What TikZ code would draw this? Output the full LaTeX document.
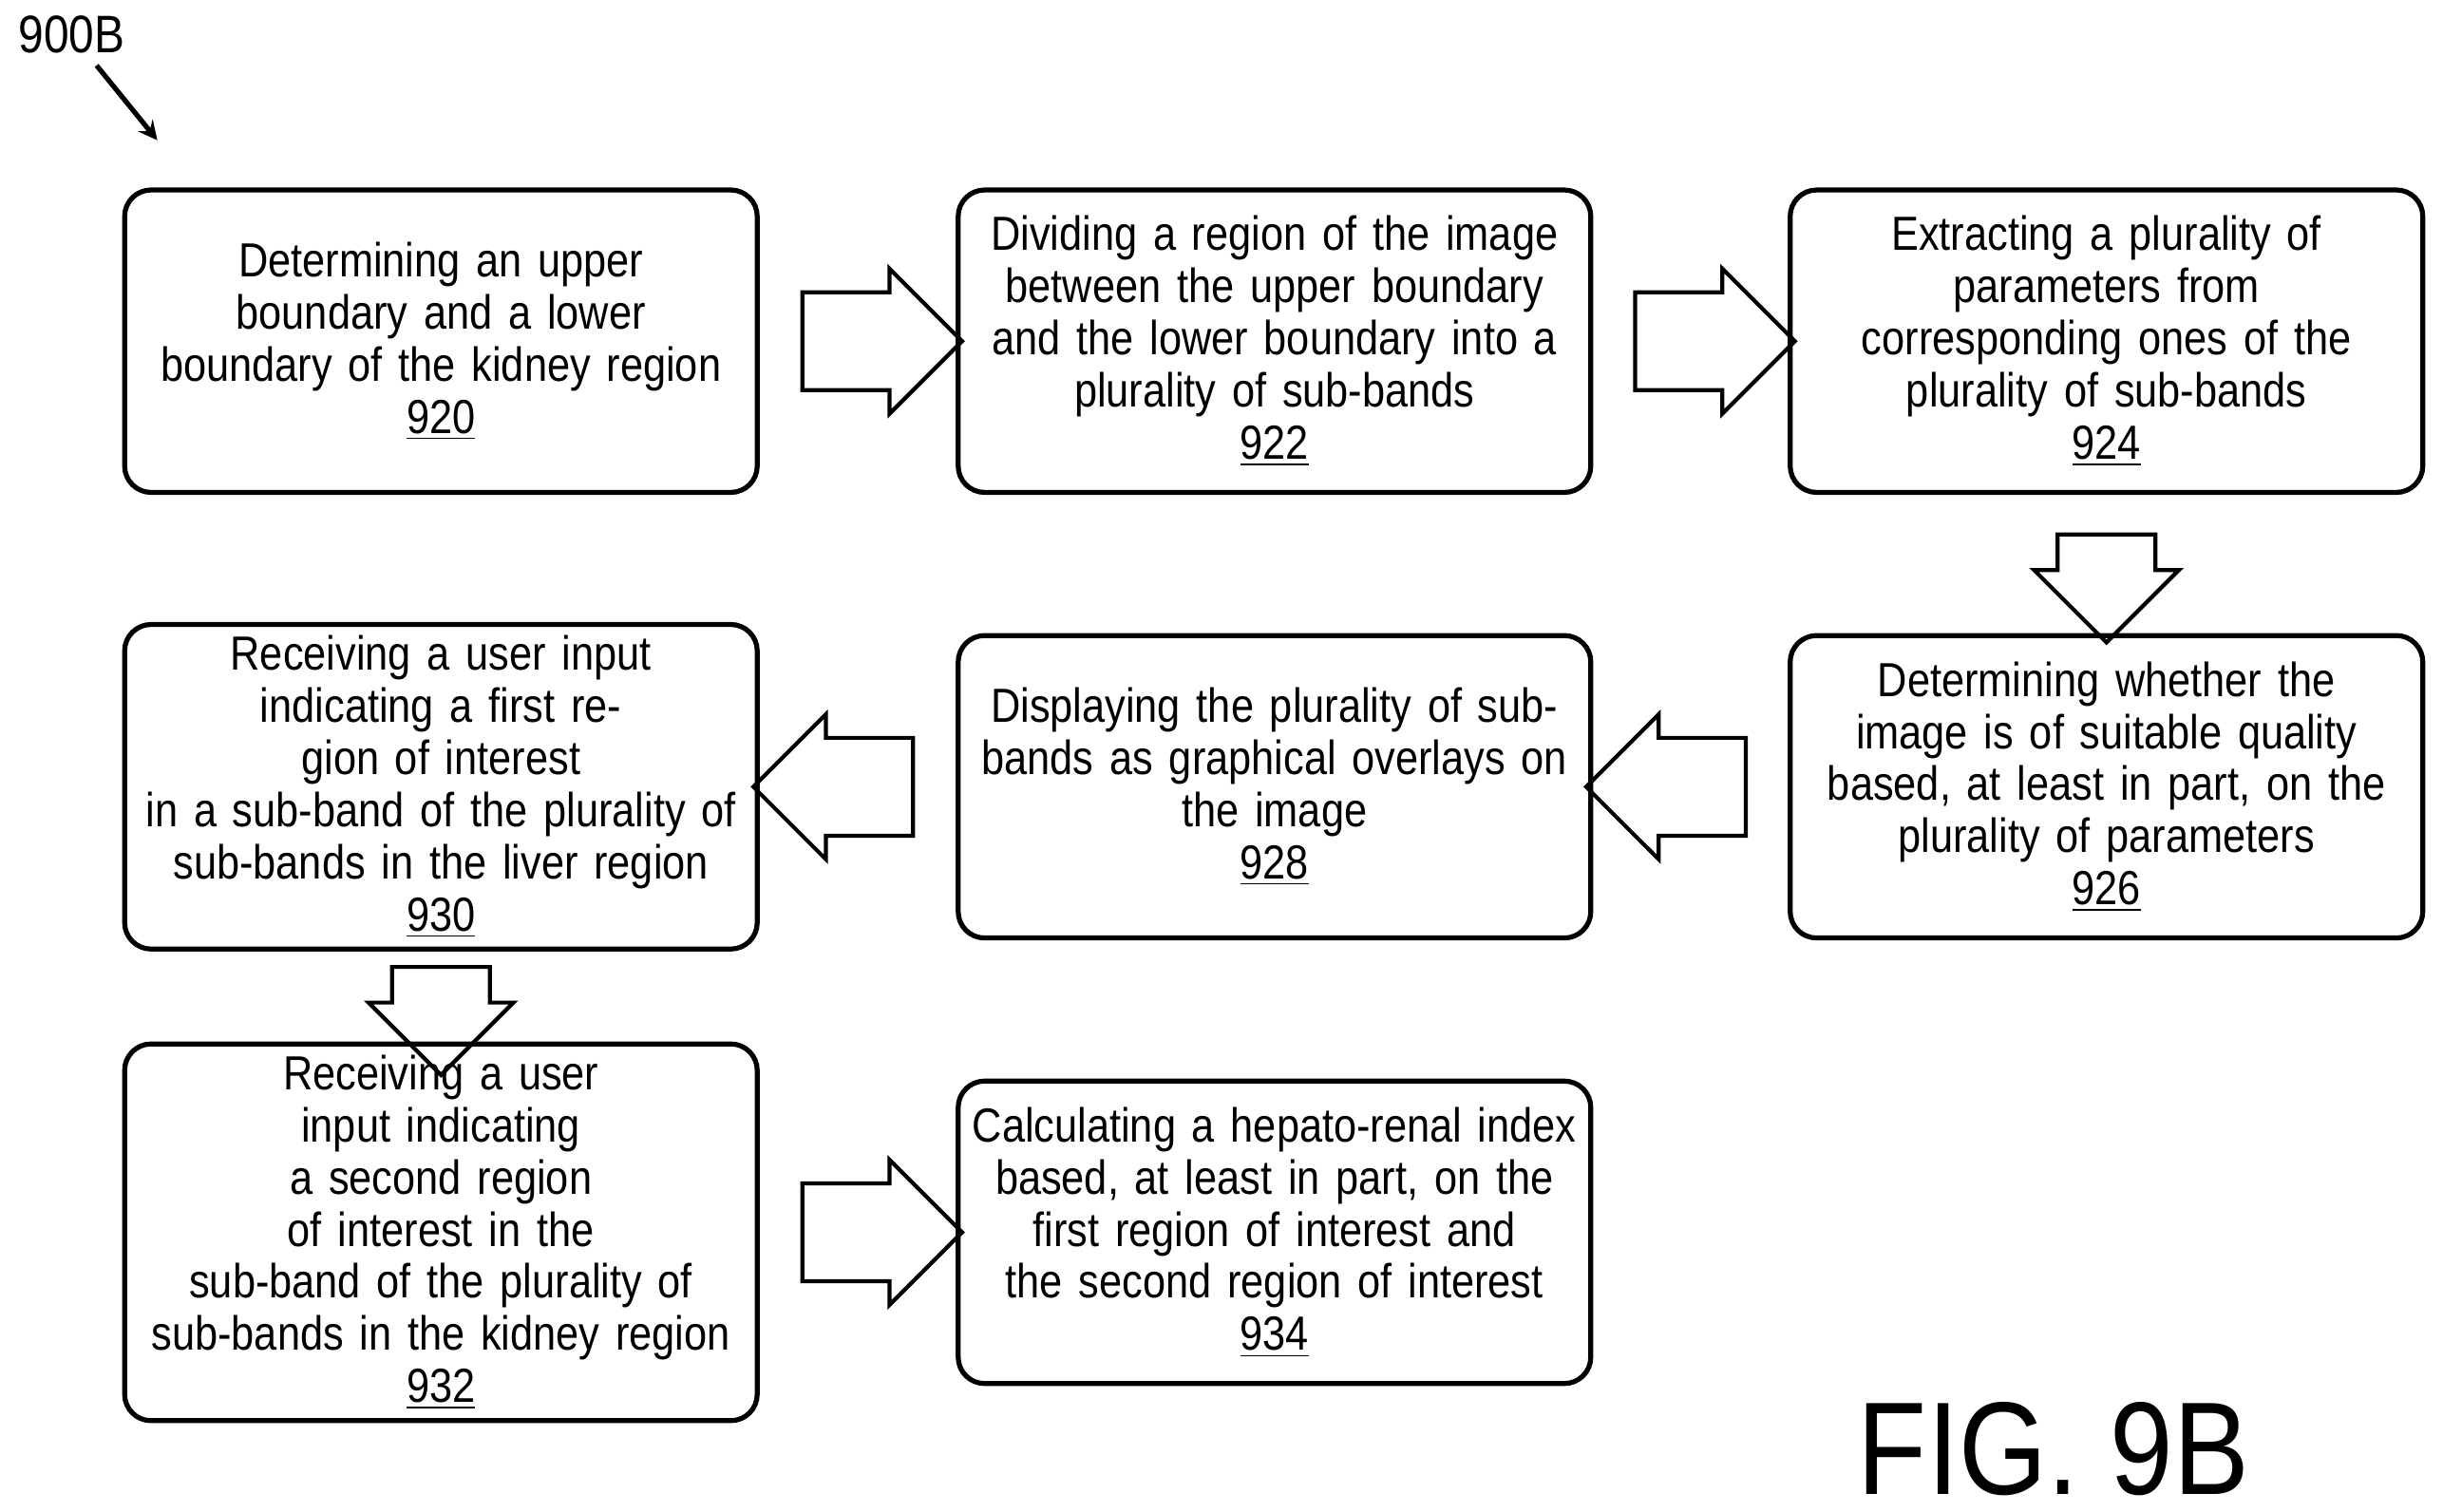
\documentclass[tikz,border=0pt]{standalone}
\usepackage{fontspec}
\setmainfont{Liberation Sans}[FakeStretch=0.86]
\usetikzlibrary{shapes.arrows,positioning,calc}
\tikzset{
  stage/.style={draw, line width=1.5pt, rounded corners=8pt, minimum width=6.67cm,
    minimum height=3.22cm, text width=6.5cm, align=center,
    font=\fontsize{14.5}{15.8}\selectfont},
  fat/.style={single arrow, draw, line width=1.2pt, minimum height=1.7cm,
    text height=0pt, text depth=0pt, inner xsep=0pt, inner ysep=0.5cm,
    single arrow head extend=0.25cm},
}
\begin{document}
\begin{tikzpicture}[x=0.01658cm,y=-0.01658cm]
\useasboundingbox (0,0) rectangle (1568,970);

\node (lbl) at (46,22) {\fontsize{16}{18}\selectfont 900B};
\coordinate (tip) at (101,90);
\draw[line width=1.5pt,-stealth] (62,42) -- (tip);

% first row
\node[stage] (s920) at (283,219) {Determining an upper\\boundary and a lower\\boundary of the kidney region\\\underline{920}};
\node[stage] (s922) at (818,219) {Dividing a region of the image\\between the upper boundary\\and the lower boundary into a\\plurality of sub-bands\\\underline{922}};
\node[stage] (s924) at (1352,219) {Extracting a plurality of\\parameters from\\corresponding ones of the\\plurality of sub-bands\\\underline{924}};

% second row
\node[stage] (s930) at (283,505) {Receiving a user input\\indicating a first region of interest\\in a sub-band of the plurality of\\sub-bands in the liver region\\\underline{930}};
\node[stage] (s928) at (818,505) {Displaying the plurality of sub-\\bands as graphical overlays on\\the image\\\underline{928}};
\node[stage] (s926) at (1352,505) {Determining whether the\\image is of suitable quality\\based, at least in part, on the\\plurality of parameters\\\underline{926}};

% third row
\node[stage] (s932) at (283,791) {Receiving a user input indicating\\a second region of interest in the\\sub-band of the plurality of\\sub-bands in the kidney region\\\underline{932}};
\node[stage] (s934) at (818,791) {Calculating a hepato-renal index\\based, at least in part, on the\\first region of interest and\\the second region of interest\\\underline{934}};

% block arrows
\node[fat] (a1) at ($(s920.east)!0.5!(s922.west)$) {};
\node[fat] (a2) at ($(s922.east)!0.5!(s924.west)$) {};
\node[fat, rotate=-90, minimum height=1.15cm] (a3) at ($(s924.south)!0.5!(s926.north)$) {};
\node[fat, rotate=180] (a4) at ($(s926.west)!0.5!(s928.east)$) {};
\node[fat, rotate=180] (a5) at ($(s928.west)!0.5!(s930.east)$) {};
\node[fat, rotate=-90, minimum height=1.15cm] (a6) at ($(s930.south)!0.5!(s932.north)$) {};
\node[fat] (a7) at ($(s932.east)!0.5!(s934.west)$) {};

\node (fig) at (1318,930) {\fontsize{40}{44}\selectfont FIG. 9B};
\end{tikzpicture}
\end{document}
